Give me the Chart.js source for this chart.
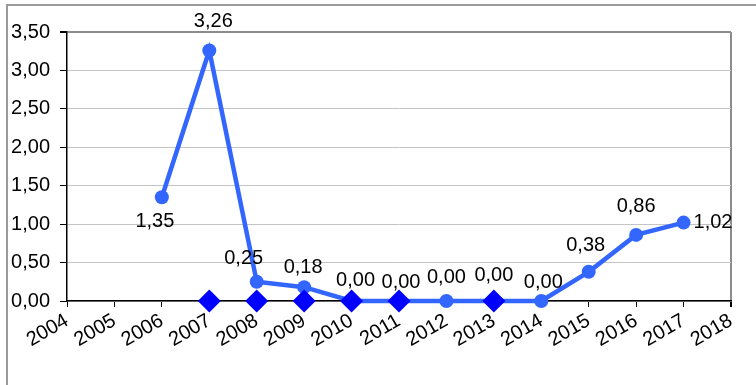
<!DOCTYPE html>
<html>
<head>
<meta charset="utf-8">
<script src="https://cdn.jsdelivr.net/npm/chart.js@4"></script>
<style>
    html, body { margin: 0; padding: 0; background: #fff; }
    #wrap { position: relative; width: 756px; height: 385px; }
</style>
</head>
<body>
<div id="wrap"><canvas id="valueChart" width="756" height="385"></canvas></div>
<script>
// ===== DATA =====
const years = [2006, 2007, 2008, 2009, 2010, 2011, 2012, 2013, 2014, 2015, 2016, 2017];
const values = [1.35, 3.26, 0.25, 0.18, 0.00, 0.00, 0.00, 0.00, 0.00, 0.38, 0.86, 1.02];

const markerYears = [2007, 2008, 2009, 2010, 2011, 2013];
const markerValues = [0, 0, 0, 0, 0, 0];

const xMin = 2004;
const xMax = 2018;
const yMax = 3.5;
const yStep = 0.5;

// label nudges (dx, dy from the point) for each value label
const labelOffsets = [
    [-7, 24], [4, -29], [-13, -23], [-1, -20], [4, -21], [2, -19],
    [0, -24], [0, -26], [2, -19], [-3, -26], [0, -28], [10, 0]
];

const FONT = "'Liberation Sans', Arial, sans-serif";

function fmt(v) {
    return v.toFixed(2).replace(".", ",");
}

// ===== VALUE LABELS + FRAME =====
const valueLabels = {
    id: "valueLabels",
    beforeDraw(chart) {
        const c = chart.ctx;
        c.save();
        c.strokeStyle = "#9a9a9a";
        c.lineWidth = 2;
        c.beginPath();
        c.moveTo(7, 385);
        c.lineTo(7, 5);
        c.lineTo(756, 5);
        c.stroke();
        c.restore();
    },
    afterDatasetsDraw(chart) {
        const c = chart.ctx;
        const meta = chart.getDatasetMeta(1);
        c.save();
        c.font = "20px " + FONT;
        c.fillStyle = "#000";
        c.textBaseline = "middle";
        meta.data.forEach((pt, i) => {
            const off = labelOffsets[i];
            c.textAlign = i === values.length - 1 ? "left" : "center";
            c.fillText(fmt(values[i]), pt.x + off[0], pt.y + off[1]);
        });
        c.restore();
    }
};

// ===== CHART =====
new Chart(document.getElementById("valueChart"), {
    type: "scatter",
    data: {
        datasets: [
            {
                label: "markers",
                data: markerYears.map((y, i) => ({ x: y, y: markerValues[i] })),
                pointStyle: "rectRot",
                pointRadius: 11.5,
                backgroundColor: "#0000ff",
                borderColor: "#0000ff",
                borderWidth: 0,
                showLine: false,
                clip: false,
                order: 0
            },
            {
                label: "values",
                data: years.map((y, i) => ({ x: y, y: values[i] })),
                borderColor: "#3366ff",
                backgroundColor: "#3366ff",
                borderWidth: 4.5,
                pointRadius: 7,
                pointBorderWidth: 0,
                showLine: true,
                tension: 0,
                clip: false,
                order: 1
            }
        ]
    },
    options: {
        responsive: false,
        animation: false,
        events: [],
        layout: { padding: { top: 32, right: 25, left: 0, bottom: 0 } },
        plugins: {
            legend: { display: false },
            tooltip: { enabled: false }
        },
        scales: {
            x: {
                type: "linear",
                min: xMin,
                max: xMax,
                afterFit(scale) { scale.height = 84; },
                ticks: {
                    stepSize: 1,
                    autoSkip: false,
                    minRotation: 30,
                    maxRotation: 30,
                    padding: 2,
                    color: "#000",
                    font: { family: FONT, size: 20 },
                    callback: v => String(v)
                },
                grid: {
                    drawOnChartArea: true,
                    color: ctx => ctx.tick && ctx.tick.value === xMax ? "#8c8c8c" : "rgba(0,0,0,0)",
                    lineWidth: ctx => ctx.tick && ctx.tick.value === xMax ? 2 : 1,
                    tickColor: "#000",
                    tickLength: 6
                },
                border: { color: "#000", width: 1.5 }
            },
            y: {
                min: 0,
                max: yMax,
                afterFit(scale) { scale.width = 67; },
                ticks: {
                    stepSize: yStep,
                    padding: 10,
                    color: "#000",
                    font: { family: FONT, size: 20 },
                    callback: v => fmt(v)
                },
                grid: {
                    color: ctx => ctx.tick && ctx.tick.value === yMax ? "#8c8c8c" : "#c4c4c4",
                    lineWidth: ctx => ctx.tick && ctx.tick.value === yMax ? 2 : 1,
                    tickColor: "#000",
                    tickLength: 7
                },
                border: { color: "#000", width: 1.5 }
            }
        }
    },
    plugins: [valueLabels]
});
</script>
</body>
</html>
